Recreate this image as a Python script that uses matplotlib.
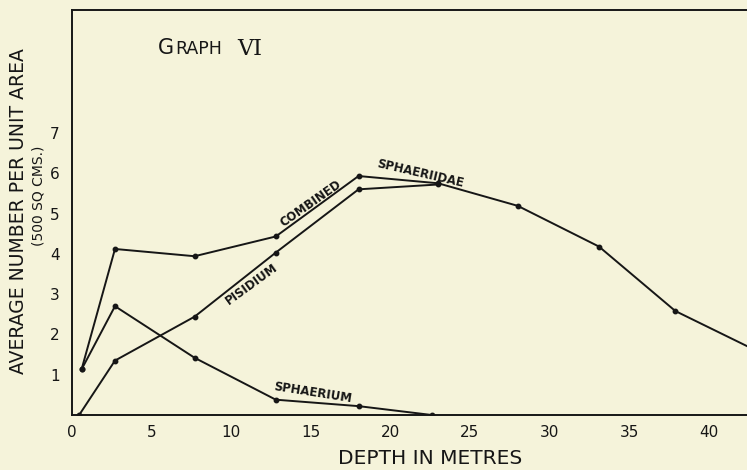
import matplotlib
matplotlib.use('Agg')
import matplotlib.pyplot as plt

# values (depth in metres, number per 500 sq cm)
depth = [0.6, 2.7, 7.7, 12.8, 18.0, 23.0, 28.0, 33.1, 37.9, 42.5]
combined = [1.13, 4.12, 3.94, 4.43, 5.93, 5.75, 5.19, 4.18, 2.58, 1.69]

pisidium_depth = [0.45, 2.7, 7.7, 12.8, 18.0, 23.0]
pisidium = [0.0, 1.35, 2.44, 4.03, 5.6, 5.72]

sphaerium_depth = [0.6, 2.7, 7.7, 12.8, 18.0, 22.6]
sphaerium = [1.13, 2.7, 1.42, 0.38, 0.22, 0.0]

x_ticks = [0, 5, 10, 15, 20, 25, 30, 35, 40]
y_ticks = [1, 2, 3, 4, 5, 6, 7]

W, H = 747, 470
paper = '#f5f3da'
ink = '#161616'


def px(x, y):
    # pixel position -> figure fraction
    return x / W, 1 - y / H


fig = plt.figure(figsize=(W / 100, H / 100), dpi=100, facecolor=paper)
ax = fig.add_axes([72 / W, 1 - 415 / H, 1 - 72 / W, 405 / H])
ax.set_facecolor(paper)

line_kw = dict(color=ink, lw=1.4, marker='o', ms=3.2, mfc=ink, mec=ink, clip_on=True)
ax.plot(depth, combined, markevery=list(range(len(depth) - 1)), **line_kw)
ax.plot(pisidium_depth, pisidium, **line_kw)
ax.plot(sphaerium_depth, sphaerium, **line_kw)

ax.set_xlim(0, 42.4)
ax.set_ylim(0, 10.05)
ax.set_xticks(x_ticks)
ax.set_yticks(y_ticks)
ax.tick_params(length=0, labelsize=11, colors=ink)
ax.tick_params(axis='x', pad=7)
ax.tick_params(axis='y', pad=9)
for s in ['left', 'top', 'bottom']:
    ax.spines[s].set_linewidth(1.4)
    ax.spines[s].set_color(ink)
ax.spines['right'].set_visible(False)

# curve labels
lab_kw = dict(fontsize=8.5, color=ink, ha='center', va='center', fontweight='semibold')
ax.text(15.0, 5.25, 'COMBINED', rotation=35, **lab_kw)
ax.text(21.9, 6.0, 'SPHAERIIDAE', rotation=-13, **lab_kw)
ax.text(11.3, 3.25, 'PISIDIUM', rotation=36, **lab_kw)
ax.text(15.1, 0.55, 'SPHAERIUM', rotation=-9, **lab_kw)

# title in small caps
fig.text(*px(158, 54), 'G', fontsize=15, color=ink, ha='left', va='baseline')
fig.text(*px(175, 54), 'RAPH', fontsize=12.5, color=ink, ha='left', va='baseline')
fig.text(*px(237, 55), 'VI', fontsize=16, color=ink, ha='left', va='baseline',
         family='DejaVu Serif')

# axis titles
fig.text(*px(430, 459), 'DEPTH IN METRES', fontsize=14.5, color=ink,
         ha='center', va='center')
fig.text(*px(19, 211), 'AVERAGE NUMBER PER UNIT AREA', fontsize=13.5,
         color=ink, ha='center', va='center', rotation=90)
fig.text(*px(39, 196), '(500 SQ CMS.)', fontsize=10, color=ink,
         ha='center', va='center', rotation=90)

fig.savefig('out.png', dpi=100, facecolor=paper)
